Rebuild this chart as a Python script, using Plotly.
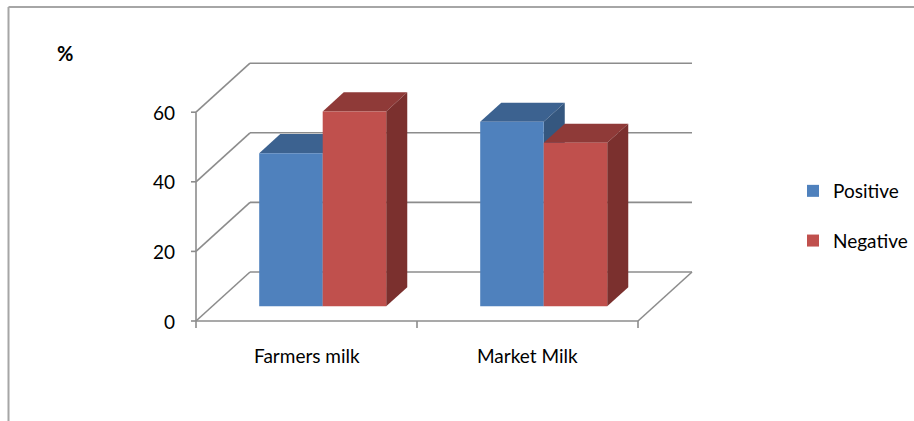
import plotly.graph_objects as go

categories = ["Farmers milk", "Market Milk"]
series_names = ["Positive", "Negative"]
positive = [44, 53]
negative = [56, 47]
y_ticks = [0, 20, 40, 60]

front_colors = ["#4F81BD", "#C0504D"]
top_colors = ["#3C6290", "#8F3A38"]
side_colors = ["#35577F", "#7B302E"]
grid_color = "#8C8C8C"

# projection parameters (category units / value units)
PX_PER_CAT = 221.0
PX_PER_VAL = 3.48
DX = 54 / PX_PER_CAT        # depth offset in x
DY = 49 / PX_PER_VAL        # depth offset in y
D0, D1 = 0.30, 0.69         # bar front/back depth
BW = 63.5 / PX_PER_CAT      # bar width
W, H = 914, 421
X0PX, Y0PX = 196, 321

xr = [-X0PX / PX_PER_CAT, (W - X0PX) / PX_PER_CAT]
yr = [-(H - Y0PX) / PX_PER_VAL, Y0PX / PX_PER_VAL]

fig = go.Figure()
shapes = []

def line(x0, y0, x1, y1, color=grid_color, width=1.6):
    shapes.append(dict(type="line", xref="x", yref="y", x0=x0, y0=y0, x1=x1, y1=y1,
                       line=dict(color=color, width=width), layer="below"))

def poly(pts, color):
    path = "M " + " L ".join(f"{x},{y}" for x, y in pts) + " Z"
    shapes.append(dict(type="path", xref="x", yref="y", path=path, fillcolor=color,
                       line=dict(width=0), layer="below"))

ncat = len(categories)
ymax = max(y_ticks)
# walls and grid
for v in y_ticks:
    line(DX, v + DY, DX + ncat, v + DY)          # back wall grid
    line(0, v, DX, v + DY)                         # left wall diagonal
    line(-5 / PX_PER_CAT, v, 0, v)                 # y tick
line(0, 0, 0, ymax)                                # front y axis
line(0, 0, ncat, 0)                                # floor front edge
line(ncat, 0, ncat + DX, DY)                       # floor right edge
for i in range(ncat + 1):
    line(i, 0, i, -7 / PX_PER_VAL)                 # x ticks

all_vals = [positive, negative]
# 3D faces (top and side), drawn per category: Positive then Negative
for i in range(ncat):
    for s, vals in enumerate(all_vals):
        v = vals[i]
        xl = i + 0.5 - BW + s * BW
        xrt = xl + BW
        # top face
        poly([(xl + D0 * DX, v + D0 * DY), (xrt + D0 * DX, v + D0 * DY),
              (xrt + D1 * DX, v + D1 * DY), (xl + D1 * DX, v + D1 * DY)], top_colors[s])
        # side face
        poly([(xrt + D0 * DX, D0 * DY), (xrt + D0 * DX, v + D0 * DY),
              (xrt + D1 * DX, v + D1 * DY), (xrt + D1 * DX, D1 * DY)], side_colors[s])

# front faces as bars
for s, vals in enumerate(all_vals):
    xs = [i + 0.5 - BW / 2 + s * BW + D0 * DX for i in range(ncat)]
    fig.add_trace(go.Bar(
        x=xs, y=vals, base=[D0 * DY] * ncat, width=[BW] * ncat,
        name=series_names[s], legendgroup=series_names[s],
        marker=dict(color=front_colors[s], line=dict(width=0)),
        hoverinfo="skip"))

# frame border
bx = 8.5 / W
by = 1 - 7 / H
shapes.append(dict(type="line", xref="paper", yref="paper", x0=bx, y0=0, x1=bx, y1=by,
                   line=dict(color="#A6A6A6", width=2)))
shapes.append(dict(type="line", xref="paper", yref="paper", x0=bx, y0=by, x1=1.0, y1=by,
                   line=dict(color="#A6A6A6", width=2)))

font_family = "Lato, 'Open Sans', sans-serif"
FS = 19
annotations = []
for v in y_ticks:
    annotations.append(dict(x=-19 / PX_PER_CAT, y=v, xref="x", yref="y", text=str(v),
                            showarrow=False, xanchor="right", yanchor="middle",
                            font=dict(size=FS, color="black", family=font_family)))
for i, c in enumerate(categories):
    annotations.append(dict(x=i + 0.5, y=-34 / PX_PER_VAL, xref="x", yref="y", text=c,
                            showarrow=False, xanchor="center", yanchor="middle",
                            font=dict(size=FS, color="black", family=font_family)))
annotations.append(dict(x=65 / W, y=1 - 53 / H, xref="paper", yref="paper", text="<b>%</b>",
                        showarrow=False, xanchor="center", yanchor="middle",
                        font=dict(size=20, color="black", family=font_family)))

fig.update_layout(
    width=W, height=H,
    margin=dict(l=0, r=0, t=0, b=0),
    paper_bgcolor="white", plot_bgcolor="white",
    barmode="overlay",
    xaxis=dict(range=xr, visible=False, fixedrange=True),
    yaxis=dict(range=yr, visible=False, fixedrange=True),
    shapes=shapes, annotations=annotations,
    showlegend=True,
    legend=dict(x=793 / W, y=1 - 172 / H, xanchor="left", yanchor="top",
                font=dict(size=FS, color="black", family=font_family),
                tracegroupgap=22, itemwidth=30, bgcolor="rgba(0,0,0,0)"),
)

fig.write_html("out.html")
